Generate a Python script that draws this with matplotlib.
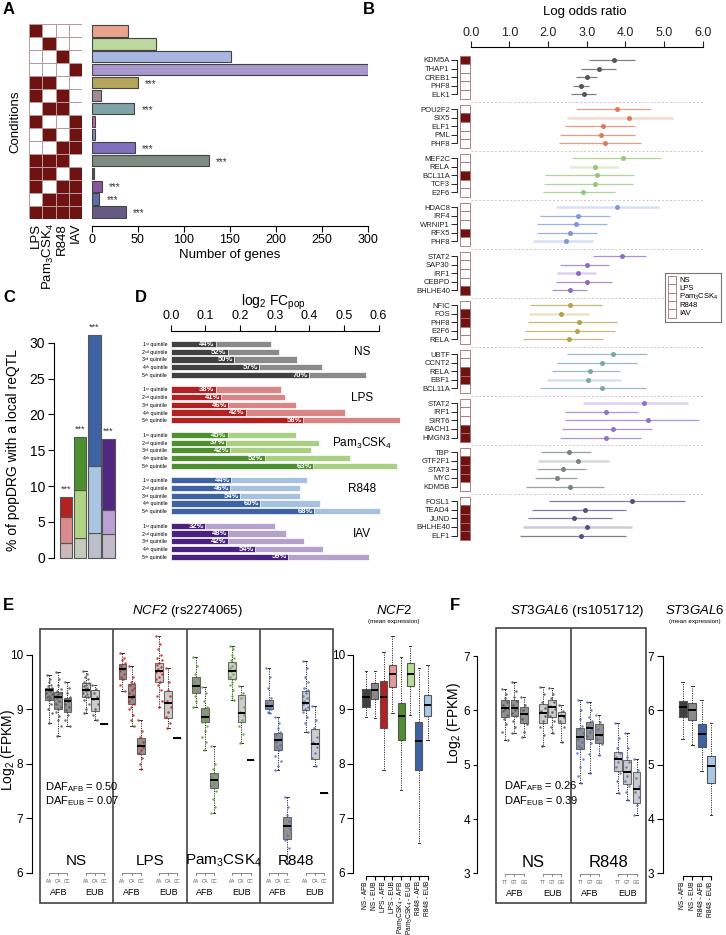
import matplotlib
matplotlib.use('Agg')
import matplotlib.pyplot as plt
from matplotlib.patches import Rectangle
from matplotlib.colors import ListedColormap
import numpy as np

plt.rcParams['font.family'] = ['Liberation Sans', 'DejaVu Sans']
plt.rcParams['mathtext.fontset'] = 'custom'
plt.rcParams['mathtext.rm'] = 'Liberation Sans'
plt.rcParams['mathtext.it'] = 'Liberation Sans:italic'
plt.rcParams['mathtext.bf'] = 'Liberation Sans:bold'
plt.rcParams['axes.linewidth'] = 0.8

# ---------------- data ----------------
# A: condition combinations (LPS, Pam3CSK4, R848, IAV) and gene counts
combo_cols = ['LPS', r'Pam$_3$CSK$_4$', 'R848', 'IAV']
combo_matrix = [[1, 0, 0, 0], [0, 1, 0, 0], [0, 0, 1, 0], [0, 0, 0, 1],
                [1, 1, 0, 0], [1, 0, 1, 0], [0, 1, 1, 0], [1, 0, 0, 1],
                [0, 1, 0, 1], [0, 0, 1, 1], [1, 1, 1, 0], [1, 1, 0, 1],
                [1, 0, 1, 1], [0, 1, 1, 1], [1, 1, 1, 1]]
n_genes = [39, 70, 151, 300, 50, 10, 46, 4, 4, 47, 127, 2, 11, 8, 37]
combo_signif = [0, 0, 0, 0, 1, 0, 1, 0, 0, 1, 1, 0, 1, 1, 1]
combo_colors = ['#e8a48c', '#bcd89e', '#a9b7e0', '#a897cc', '#b3a55b', '#a3899a',
                '#80a3aa', '#b86aa0', '#7f8db3', '#7e6fc0', '#7d8b80', '#555566',
                '#87589e', '#5e6ea8', '#665a85']

# B: TF enrichment (log odds ratio with CI)
tf_names = [['KDM5A', 'THAP1', 'CREB1', 'PHF8', 'ELK1'],
            ['POU2F2', 'SIX5', 'ELF1', 'PML', 'PHF8'],
            ['MEF2C', 'RELA', 'BCL11A', 'TCF3', 'E2F6'],
            ['HDAC8', 'IRF4', 'WRNIP1', 'RFX5', 'PHF8'],
            ['STAT2', 'SAP30', 'IRF1', 'CEBPD', 'BHLHE40'],
            ['NFIC', 'FOS', 'PHF8', 'E2F6', 'RELA'],
            ['UBTF', 'CCNT2', 'RELA', 'EBF1', 'BCL11A'],
            ['STAT2', 'IRF1', 'SIRT6', 'BACH1', 'HMGN3'],
            ['TBP', 'GTF2F1', 'STAT3', 'MYC', 'KDM5B'],
            ['FOSL1', 'TEAD4', 'JUND', 'BHLHE40', 'ELF1']]
tf_or = [[3.71, 3.33, 3.00, 2.85, 2.93],
         [3.78, 4.10, 3.41, 3.36, 3.47],
         [3.95, 3.22, 3.26, 3.22, 2.90],
         [3.79, 2.78, 2.73, 2.57, 2.46],
         [3.91, 3.00, 2.78, 3.00, 2.57],
         [2.57, 2.34, 2.80, 2.74, 2.53],
         [3.67, 3.40, 3.09, 3.04, 3.39],
         [4.49, 3.50, 4.59, 3.69, 3.49],
         [2.53, 2.77, 2.39, 2.23, 2.57],
         [4.17, 2.95, 2.68, 3.00, 2.84]]
tf_lo = [[3.07, 2.84, 2.72, 2.64, 2.60],
         [2.72, 2.50, 2.45, 2.31, 2.29],
         [2.62, 2.53, 1.93, 1.90, 1.88],
         [2.21, 1.78, 1.72, 1.71, 1.60],
         [3.16, 2.32, 2.24, 2.21, 2.10],
         [1.53, 1.51, 1.47, 1.41, 1.36],
         [2.50, 2.22, 2.11, 1.98, 1.78],
         [2.90, 2.45, 2.45, 2.36, 2.32],
         [1.83, 1.75, 1.71, 1.66, 1.43],
         [2.03, 1.59, 1.49, 1.36, 1.28]]
tf_hi = [[4.25, 3.76, 3.26, 3.07, 3.24],
         [4.66, 5.24, 4.25, 4.25, 4.41],
         [4.92, 3.84, 4.23, 4.21, 3.73],
         [4.88, 3.59, 3.53, 3.26, 3.16],
         [4.53, 3.57, 3.24, 3.66, 3.00],
         [3.40, 3.05, 3.79, 3.73, 3.43],
         [4.57, 4.31, 3.86, 3.88, 4.53],
         [5.63, 4.34, 5.91, 4.69, 4.41],
         [3.10, 3.57, 2.98, 2.74, 3.45],
         [5.54, 4.01, 3.66, 4.16, 4.02]]
tf_faded = [[0, 0, 0, 0, 0], [0, 1, 0, 0, 0], [0, 1, 0, 0, 0], [1, 0, 0, 0, 1],
            [0, 0, 1, 0, 0], [0, 1, 0, 0, 0], [0, 0, 0, 1, 0], [1, 0, 0, 0, 0],
            [0, 1, 0, 0, 0], [0, 0, 0, 1, 0]]
tf_marked = [[1, 0, 0, 0, 0], [0, 1, 0, 0, 0], [0, 0, 1, 0, 0], [0, 0, 0, 1, 0],
             [0, 0, 0, 0, 1], [0, 1, 1, 0, 0], [0, 0, 1, 1, 0], [0, 0, 0, 1, 1],
             [0, 1, 1, 1, 0], [0, 1, 1, 1, 1]]
tf_group_colors = ['#555555', '#e07b5a', '#94c77a', '#7b98d8', '#8e6cc4',
                   '#b3a34e', '#7aa6ad', '#8f72cc', '#74857a', '#5d4d86']
b_legend = ['NS', 'LPS', r'Pam$_3$CSK$_4$', 'R848', 'IAV']

# C: % of popDRG with a local reQTL (cumulative stack levels)
c_level1 = [2.1, 2.7, 3.4, 3.26]
c_level2 = [5.7, 9.5, 12.8, 6.65]
c_level3 = [8.5, 16.9, 31.1, 16.6]
c_col1 = ['#cbb9b9', '#c3cbb9', '#b9c0c9', '#c3bbca']
c_col2 = ['#d98a8a', '#b0d384', '#a9c5e1', '#b9a2d3']
c_col3 = ['#b22222', '#4e8f2e', '#3e63a5', '#50287f']

# D: log2 FCpop per quintile
d_conditions = ['NS', 'LPS', r'Pam$_3$CSK$_4$', 'R848', 'IAV']
d_quintiles = ['1ˢᵗ quintile', '2ⁿᵈ quintile', '3ʳᵈ quintile', '4ᵗʰ quintile', '5ᵗʰ quintile']
d_part = [[0.130, 0.164, 0.183, 0.255, 0.398],
          [0.130, 0.145, 0.166, 0.216, 0.382],
          [0.164, 0.159, 0.171, 0.271, 0.410],
          [0.174, 0.171, 0.201, 0.257, 0.413],
          [0.100, 0.166, 0.164, 0.243, 0.338]]
d_total = [[0.290, 0.313, 0.364, 0.437, 0.563],
           [0.319, 0.330, 0.362, 0.503, 0.661],
           [0.361, 0.427, 0.404, 0.518, 0.653],
           [0.393, 0.374, 0.372, 0.431, 0.605],
           [0.300, 0.332, 0.386, 0.439, 0.573]]
d_pct = [[44, 52, 50, 57, 70], [38, 41, 46, 42, 58], [45, 37, 42, 52, 63],
         [44, 46, 54, 60, 68], [32, 48, 42, 54, 59]]
d_dark = ['#404040', '#b22222', '#4e8f2e', '#3e63a5', '#4a2180']
d_light = ['#8a8a8a', '#d98585', '#a9cf80', '#a6c2e0', '#b6a0cc']

# E: NCF2 boxes (q1, median, q3, whisker low, whisker high) AFB AA/CA/CC, EUB AA/CA/CC
e_conditions = ['NS', 'LPS', r'Pam$_3$CSK$_4$', 'R848']
e_genotypes = ['AA', 'CA', 'CC']
e_boxes = [
    [(9.17, 9.36, 9.39, 8.74, 9.63), (9.00, 9.23, 9.31, 8.51, 9.69), (8.95, 9.16, 9.20, 8.70, 9.51),
     (9.22, 9.36, 9.48, 8.93, 9.71), (8.96, 9.19, 9.36, 8.80, 9.45), (8.73, 8.73, 8.73, 8.73, 8.73)],
    [(9.56, 9.74, 9.83, 9.34, 10.04), (9.09, 9.23, 9.47, 8.70, 9.80), (8.18, 8.33, 8.47, 7.90, 8.81),
     (9.51, 9.71, 9.85, 9.05, 10.34), (8.84, 9.12, 9.34, 8.65, 9.75), (8.47, 8.47, 8.47, 8.47, 8.47)],
    [(9.30, 9.43, 9.59, 9.05, 9.97), (8.76, 8.85, 9.02, 8.25, 9.41), (7.55, 7.70, 7.83, 7.09, 8.32),
     (9.55, 9.71, 9.87, 9.17, 10.17), (8.76, 8.93, 9.26, 8.39, 9.43), (8.06, 8.06, 8.06, 8.06, 8.06)],
    [(9.01, 9.06, 9.17, 8.93, 9.75), (8.25, 8.44, 8.56, 7.89, 8.85), (6.61, 6.86, 7.03, 6.17, 7.38),
     (8.99, 9.11, 9.33, 8.59, 9.88), (8.08, 8.36, 8.63, 7.95, 9.06), (7.46, 7.46, 7.46, 7.46, 7.46)]]
# individual samples (approximate readings) per box
e_points = [
    [[9.63, 9.55, 9.5, 9.45, 9.42, 9.4, 9.38, 9.37, 9.36, 9.35, 9.33, 9.3, 9.28, 9.25, 9.22, 9.2, 9.18, 9.1, 9.0, 8.93, 8.74],
     [9.69, 9.55, 9.45, 9.38, 9.33, 9.3, 9.28, 9.25, 9.23, 9.2, 9.15, 9.1, 9.05, 9.0, 8.95, 8.88, 8.8, 8.7, 8.51],
     [9.51, 9.4, 9.3, 9.22, 9.19, 9.17, 9.15, 9.1, 9.05, 8.98, 8.9, 8.8, 8.7],
     [9.71, 9.65, 9.6, 9.55, 9.5, 9.48, 9.45, 9.42, 9.4, 9.38, 9.37, 9.36, 9.35, 9.33, 9.3, 9.28, 9.25, 9.22, 9.18, 9.1, 9.0, 8.93],
     [9.45, 9.38, 9.3, 9.22, 9.19, 9.1, 9.0, 8.9, 8.8],
     [8.73]],
    [[10.04, 9.95, 9.9, 9.85, 9.8, 9.76, 9.74, 9.7, 9.65, 9.6, 9.55, 9.45, 9.34],
     [9.8, 9.6, 9.5, 9.48, 9.45, 9.4, 9.35, 9.3, 9.26, 9.23, 9.2, 9.15, 9.1, 9.05, 9.0, 8.9, 8.8, 8.7],
     [8.81, 8.6, 8.5, 8.4, 8.35, 8.3, 8.25, 8.2, 8.1, 8.0, 7.9],
     [10.34, 10.2, 10.1, 10.0, 9.95, 9.9, 9.86, 9.82, 9.78, 9.74, 9.71, 9.68, 9.65, 9.6, 9.55, 9.5, 9.45, 9.35, 9.25, 9.15, 9.05],
     [9.75, 9.5, 9.35, 9.25, 9.15, 9.05, 8.95, 8.85, 8.75, 8.65],
     [8.47]],
    [[9.97, 9.8, 9.65, 9.58, 9.5, 9.45, 9.42, 9.38, 9.32, 9.25, 9.15, 9.05],
     [9.41, 9.3, 9.15, 9.05, 9.0, 8.95, 8.9, 8.87, 8.85, 8.82, 8.8, 8.77, 8.7, 8.6, 8.5, 8.4, 8.25],
     [8.32, 8.0, 7.9, 7.82, 7.75, 7.7, 7.65, 7.6, 7.5, 7.35, 7.2, 7.09],
     [10.17, 10.1, 10.0, 9.95, 9.9, 9.85, 9.8, 9.75, 9.72, 9.7, 9.65, 9.6, 9.55, 9.5, 9.45, 9.35, 9.25, 9.17],
     [9.43, 9.3, 9.2, 9.05, 8.95, 8.9, 8.8, 8.7, 8.55, 8.39],
     [8.06]],
    [[9.75, 9.6, 9.4, 9.2, 9.12, 9.08, 9.05, 9.03, 9.0, 8.95, 8.93],
     [8.85, 8.75, 8.65, 8.58, 8.52, 8.47, 8.44, 8.4, 8.35, 8.3, 8.25, 8.15, 8.05, 7.95, 7.89],
     [7.38, 7.2, 7.05, 6.95, 6.88, 6.8, 6.7, 6.6, 6.45, 6.3, 6.17],
     [9.88, 9.75, 9.6, 9.5, 9.4, 9.35, 9.3, 9.25, 9.2, 9.15, 9.12, 9.1, 9.05, 9.0, 8.95, 8.85, 8.75, 8.59],
     [9.06, 8.8, 8.65, 8.5, 8.4, 8.3, 8.2, 8.1, 7.95],
     [7.46]]]
e_point_colors = ['#555555', '#c0281e', '#5ea82e', '#4a6fc0']
e_daf = ['0.50', '0.07']
e_mean_labels = ['NS - AFB', 'NS - EUB', 'LPS - AFB', 'LPS - EUB',
                 r'Pam$_3$CSK$_4$ - AFB', r'Pam$_3$CSK$_4$ - EUB', 'R848 - AFB', 'R848 - EUB']
e_mean_boxes = [(9.04, 9.23, 9.37, 8.85, 9.71), (9.19, 9.36, 9.48, 8.84, 9.71),
                (8.65, 9.23, 9.52, 7.89, 10.06), (9.41, 9.65, 9.82, 8.94, 10.35),
                (8.44, 8.87, 9.11, 7.52, 9.97), (9.43, 9.65, 9.85, 8.90, 10.17),
                (7.89, 8.42, 8.77, 6.54, 9.75), (8.87, 9.08, 9.26, 8.44, 9.82)]
e_mean_colors = ['#404040', '#8a8a8a', '#b22222', '#e59a9a', '#4e8f2e', '#b9de92', '#3e63a5', '#a9c8e8']

# F: ST3GAL6 boxes
f_conditions = ['NS', 'R848']
f_genotypes = ['TT', 'GT', 'GG']
f_boxes = [
    [(5.88, 6.04, 6.19, 5.45, 6.40), (5.89, 6.04, 6.19, 5.59, 6.53), (5.77, 5.93, 6.07, 5.51, 6.24),
     (5.76, 5.96, 6.11, 5.34, 6.43), (5.88, 6.06, 6.19, 5.58, 6.42), (5.77, 5.89, 5.97, 5.42, 6.10)],
    [(5.28, 5.51, 5.67, 4.66, 6.19), (5.48, 5.67, 5.79, 4.84, 6.16), (5.40, 5.55, 5.75, 5.18, 5.91),
     (4.89, 5.10, 5.24, 4.48, 5.77), (4.64, 4.87, 5.08, 4.35, 5.58), (4.30, 4.55, 4.87, 4.07, 5.10)]]
f_points = [
    [[6.4, 6.3, 6.22, 6.15, 6.1, 6.05, 6.02, 5.98, 5.92, 5.85, 5.75, 5.6, 5.45],
     [6.53, 6.35, 6.25, 6.18, 6.1, 6.05, 6.0, 5.95, 5.9, 5.8, 5.7, 5.59],
     [6.24, 6.1, 6.0, 5.93, 5.85, 5.75, 5.6, 5.51],
     [6.43, 6.3, 6.15, 6.05, 5.98, 5.9, 5.8, 5.7, 5.55, 5.34],
     [6.42, 6.3, 6.22, 6.15, 6.08, 6.03, 5.97, 5.9, 5.8, 5.7, 5.58],
     [6.1, 5.98, 5.92, 5.88, 5.8, 5.7, 5.42]],
    [[6.19, 6.0, 5.85, 5.72, 5.65, 5.58, 5.52, 5.48, 5.42, 5.35, 5.3, 5.22, 5.1, 4.95, 4.8, 4.66],
     [6.16, 6.0, 5.88, 5.8, 5.72, 5.66, 5.6, 5.52, 5.4, 5.2, 4.84],
     [5.91, 5.78, 5.65, 5.55, 5.48, 5.38, 5.18],
     [5.77, 5.5, 5.3, 5.22, 5.15, 5.1, 5.05, 4.95, 4.85, 4.7, 4.48],
     [5.58, 5.3, 5.15, 5.05, 4.95, 4.88, 4.8, 4.7, 4.6, 4.5, 4.35],
     [5.1, 4.9, 4.75, 4.6, 4.5, 4.4, 4.25, 4.07]]]
f_point_colors = ['#555555', '#4a6fc0']
f_daf = ['0.26', '0.39']
f_mean_labels = ['NS - AFB', 'NS - EUB', 'R848 - AFB', 'R848 - EUB']
f_mean_boxes = [(5.88, 6.06, 6.18, 5.48, 6.53), (5.82, 6.01, 6.14, 5.36, 6.45),
                (5.33, 5.56, 5.74, 4.88, 6.19), (4.67, 4.98, 5.15, 4.07, 5.76)]
f_mean_colors = ['#404040', '#8a8a8a', '#3e63a5', '#a9c8e8']

# ---------------- figure ----------------
W, H = 726, 935
PT = 0.72  # points per pixel at dpi 100
fig = plt.figure(figsize=(W / 100, H / 100), dpi=100)
JITTER = [-0.28, 0.12, -0.06, 0.24, -0.18, 0.3, 0.02, -0.24, 0.18, -0.12, 0.08, -0.3, 0.27, -0.02]


def axes_px(x0, y0, x1, y1):
    return fig.add_axes([x0 / W, 1 - y1 / H, (x1 - x0) / W, (y1 - y0) / H])


def letter(x, y, s):
    fig.text(x / W, 1 - y / H, s, fontsize=12, fontweight='bold', va='center', ha='left')


def hide(ax, which):
    for s in which:
        ax.spines[s].set_visible(False)


def boxes(ax, positions, stats, faces, width, alpha=1.0):
    st = [dict(q1=s[0], med=s[1], q3=s[2], whislo=s[3], whishi=s[4], fliers=[]) for s in stats]
    out = ax.bxp(st, positions=positions, widths=width, patch_artist=True, showfliers=False,
                 capwidths=width * 0.35, manage_ticks=False,
                 boxprops=dict(edgecolor='#555555', linewidth=0.8),
                 whiskerprops=dict(linestyle=(0, (1.2, 1.2)), linewidth=0.7, color='#333333'),
                 capprops=dict(linewidth=0.7, color='#333333'),
                 medianprops=dict(color='black', linewidth=1.4, zorder=4))
    for b, c in zip(out['boxes'], faces):
        b.set_facecolor(c)
        b.set_alpha(alpha)
    return out


def samples(ax, positions, values, color):
    for x, vals in zip(positions, values):
        if len(vals) < 2:
            continue
        xs = [x + JITTER[i % len(JITTER)] for i in range(len(vals))]
        ax.scatter(xs, vals, s=3.2, color=color, alpha=0.85, lw=0, zorder=3)


# ---- A ----
letter(3, 10, 'A')
axh = axes_px(29, 24.4, 82, 218.6)
axh.pcolormesh(np.array(combo_matrix), cmap=ListedColormap(['white', '#6e1212']),
               edgecolors='#b89a9a', linewidth=0.7)
axh.set_xlim(0, 4)
axh.set_ylim(15, 0)
axh.set_xticks(np.arange(4) + 0.5)
axh.set_xticklabels(combo_cols, rotation=90, fontsize=9.5, va='top')
axh.tick_params(axis='x', length=0, pad=3)
axh.set_yticks([])
hide(axh, ['top', 'right', 'bottom', 'left'])
fig.text(15 / W, 1 - 122 / H, 'Conditions', rotation=90, fontsize=9.5, ha='center', va='center')

axa = axes_px(91.7, 24.4, 367.7, 218.6)
ya = np.arange(len(n_genes))
axa.barh(ya, n_genes, height=0.88, color=combo_colors, edgecolor='#444444', linewidth=0.8)
for y, v, s in zip(ya, n_genes, combo_signif):
    if s:
        axa.text(v + 8, y + 0.1, '***', fontsize=7, va='center', ha='left', color='#333333')
axa.set_xlim(0, 300)
axa.set_ylim(14.5, -0.5)
axa.set_yticks([])
hide(axa, ['top', 'right', 'left'])
axa.spines['bottom'].set_position(('outward', 7.4 * PT))
axa.spines['bottom'].set_bounds(0, 300)
axa.set_xticks(np.arange(0, 301, 50))
axa.tick_params(axis='x', labelsize=9, length=4, pad=2)
axa.set_xlabel('Number of genes', fontsize=9.5, labelpad=2)

# ---- B ----
letter(363, 10, 'B')
fig.text(585 / W, 1 - 12 / H, 'Log odds ratio', fontsize=9.5, ha='center', va='center')
axb = axes_px(456.7, 47, 705, 545)
xmin_b = (456.7 - 470.7) / 38.67
axb.set_xlim(xmin_b, 6.06)
axb.set_ylim(56.4, -1.51)
hide(axb, ['right', 'bottom', 'left'])
axb.xaxis.tick_top()
axb.spines['top'].set_bounds(0, 6)
axb.set_xticks(np.arange(0, 7))
axb.set_xticklabels(['%.1f' % v for v in range(7)])
axb.tick_params(axis='x', labelsize=9, length=4, pad=2, colors='#222222')
ytick_pos, ytick_lab = [], []
gstep = 5.7
for g in range(len(tf_names)):
    y0 = g * gstep
    col = tf_group_colors[g]
    for r in range(5):
        y = y0 + r
        ytick_pos.append(y)
        ytick_lab.append(tf_names[g][r])
        if tf_faded[g][r]:
            axb.hlines(y, tf_lo[g][r], tf_hi[g][r], color=col, lw=1.8, alpha=0.3)
        else:
            axb.hlines(y, tf_lo[g][r], tf_hi[g][r], color=col, lw=0.9, alpha=0.75)
        axb.plot(tf_or[g][r], y, 'o', ms=3.6, color=col, mec='none')
        fc = '#6e1212' if tf_marked[g][r] else 'white'
        axb.add_patch(Rectangle((-0.277, y - 0.5), 0.247, 1.0, fc=fc, ec='#a07070', lw=0.6))
    axb.plot([xmin_b, xmin_b], [y0, y0 + 4], color='#333333', lw=0.8, clip_on=False)
    if g > 0:
        axb.plot([0, 6.06], [y0 - 0.85, y0 - 0.85], color='#c8c8c8', lw=0.7, ls=(0, (2, 2)))
axb.set_yticks(ytick_pos)
axb.set_yticklabels(ytick_lab, fontsize=5.5)
axb.tick_params(axis='y', length=4, width=0.7, pad=1, colors='#222222')

axl = axes_px(665, 273, 721, 322)
axl.set_xlim(0, 56)
axl.set_ylim(49, 0)
axl.set_xticks([])
axl.set_yticks([])
for s in axl.spines.values():
    s.set_color('#777777')
for i, lab in enumerate(b_legend):
    yc = 7 + i * 8.4
    axl.add_patch(Rectangle((3, yc - 4.2), 8, 8.4, fc='white', ec='#a07070', lw=0.6))
    axl.text(14, yc, lab, fontsize=5.5, va='center', ha='left')

# ---- C ----
letter(3, 297, 'C')
axc = axes_px(56, 330, 117, 560)
xc = np.arange(4)
l1 = np.array(c_level1)
l2 = np.array(c_level2)
l3 = np.array(c_level3)
axc.bar(xc, l1, width=0.87, color=c_col1, edgecolor='#555555', lw=0.8)
axc.bar(xc, l2 - l1, bottom=l1, width=0.87, color=c_col2, edgecolor='#555555', lw=0.8)
axc.bar(xc, l3 - l2, bottom=l2, width=0.87, color=c_col3, edgecolor='#555555', lw=0.8)
for x, v in zip(xc, l3):
    axc.text(x, v + 0.4, '***', fontsize=6.5, ha='center', va='bottom', color='#333333')
axc.set_xlim(-0.72, 3.6)
axc.set_ylim(-0.32, 31.77)
hide(axc, ['top', 'right', 'bottom'])
axc.set_xticks([])
axc.spines['left'].set_position(('outward', 2.5 * PT))
axc.spines['left'].set_bounds(0, 30)
axc.set_yticks(np.arange(0, 31, 5))
axc.tick_params(axis='y', labelsize=10, length=4, pad=2)
fig.text(13 / W, 1 - 450 / H, '% of popDRG with a local reQTL', rotation=90, fontsize=10,
         ha='center', va='center')

# ---- D ----
letter(135, 297, 'D')
fig.text(273 / W, 1 - 302 / H, r'log$_2$ FC$_{\mathrm{pop}}$', fontsize=10, ha='center', va='center')
axd = axes_px(170.7, 330.7, 405, 562)
axd.set_xlim(0, 0.676)
axd.set_ylim(28.3, -1.73)
hide(axd, ['right', 'bottom', 'left'])
axd.xaxis.tick_top()
axd.spines['top'].set_bounds(0, 0.6)
axd.set_xticks(np.arange(0, 0.61, 0.1))
axd.set_xticklabels(['%.1f' % v for v in np.arange(0, 0.61, 0.1)])
axd.tick_params(axis='x', labelsize=9, length=4, pad=2)
dpos, dlab = [], []
for g in range(5):
    for q in range(5):
        y = g * 5.9 + q
        dpos.append(y)
        dlab.append(d_quintiles[q])
        axd.barh(y, d_total[g][q], height=0.8, color=d_light[g], edgecolor='white', lw=0.5)
        axd.barh(y, d_part[g][q], height=0.8, color=d_dark[g], edgecolor='white', lw=0.5)
        axd.text(d_part[g][q] - 0.003, y + 0.05, '%d%%' % d_pct[g][q], color='white',
                 fontsize=5.5, fontweight='bold', ha='right', va='center')
    axd.text(0.552, g * 5.9 + 1.1, d_conditions[g], fontsize=8.5, ha='center', va='center')
axd.set_yticks(dpos)
axd.set_yticklabels(dlab, fontsize=3.8)
axd.tick_params(axis='y', length=0, pad=2.5)

# ---- E ----
letter(3, 605, 'E')
fig.text(187 / W, 1 - 611 / H, r'$\it{NCF2}$ (rs2274065)', fontsize=9.5, ha='center', va='center')
axe = axes_px(40, 629.3, 333, 903.3)
axe.set_xlim(0, 32)
axe.set_ylim(5.436, 10.47)
hide(axe, ['top', 'right', 'bottom'])
axe.spines['left'].set_position(('outward', 8.3 * PT))
axe.spines['left'].set_bounds(6, 10)
axe.set_yticks([6, 7, 8, 9, 10])
axe.tick_params(axis='y', labelsize=8.5, length=4, pad=2)
axe.set_xticks([])
axe.add_patch(Rectangle((0, 0), 1, 1, transform=axe.transAxes, fill=False, ec='#444444',
                        lw=1.2, clip_on=False))
rel = [1, 2, 3, 5, 6, 7]
for p in range(4):
    if p > 0:
        axe.axvline(p * 8, color='#444444', lw=1.2)
    pos = [p * 8 + r for r in rel]
    boxes(axe, pos, e_boxes[p], ['#7f7f7f'] * 3 + ['#c4c4c4'] * 3, 0.84, alpha=0.85)
    samples(axe, pos, e_points[p], e_point_colors[p])
    axe.text(p * 8 + 4, 6.22, e_conditions[p], fontsize=11, ha='center', va='center')
    for k, pop in enumerate(['AFB', 'EUB']):
        a, b = pos[3 * k], pos[3 * k + 2]
        axe.plot([a, b], [5.99, 5.99], color='#777777', lw=0.6)
        for x, gt in zip(pos[3 * k:3 * k + 3], e_genotypes):
            axe.plot([x, x], [5.99, 5.95], color='#777777', lw=0.6)
            axe.text(x, 5.84, gt, fontsize=3.3, ha='center', va='center', color='#555555')
        axe.text((a + b) / 2, 5.63, pop, fontsize=6.5, ha='center', va='center')
axe.text(0.6, 7.58, r'DAF$_{\mathrm{AFB}}$ = ' + e_daf[0], fontsize=8, ha='left', va='center')
axe.text(0.6, 7.32, r'DAF$_{\mathrm{EUB}}$ = ' + e_daf[1], fontsize=8, ha='left', va='center')
fig.text(8 / W, 1 - 750 / H, r'Log$_2$ (FPKM)', rotation=90, fontsize=10, ha='center', va='center')

fig.text(394 / W, 1 - 611 / H, r'$\it{NCF2}$', fontsize=9.5, ha='center', va='center')
fig.text(394 / W, 1 - 621 / H, '(mean expression)', fontsize=4.5, ha='center', va='center')
axem = axes_px(357, 629.3, 433, 875.5)
axem.set_xlim(-1.02, 7.6)
axem.set_ylim(5.947, 10.47)
hide(axem, ['top', 'right'])
boxes(axem, np.arange(8), e_mean_boxes, e_mean_colors, 0.8)
axem.spines['left'].set_position(('outward', 3.7 * PT))
axem.spines['left'].set_bounds(6, 10)
axem.spines['bottom'].set_bounds(0, 7)
axem.set_yticks([6, 7, 8, 9, 10])
axem.tick_params(axis='y', labelsize=8.5, length=4, pad=2)
axem.set_xticks(np.arange(8))
axem.set_xticklabels(e_mean_labels, rotation=90, fontsize=4.8)
axem.tick_params(axis='x', length=3, pad=1)

# ---- F ----
letter(450, 605, 'F')
fig.text(577 / W, 1 - 611 / H, r'$\it{ST3GAL6}$ (rs1051712)', fontsize=9.5, ha='center', va='center')
axf = axes_px(495.7, 628.3, 646, 903.3)
axf.set_xlim(0, 16)
axf.set_ylim(2.45, 7.51)
hide(axf, ['top', 'right', 'bottom'])
axf.spines['left'].set_position(('outward', 19 * PT))
axf.spines['left'].set_bounds(3, 7)
axf.set_yticks([3, 4, 5, 6, 7])
axf.tick_params(axis='y', labelsize=8.5, length=3, pad=1.5)
axf.set_xticks([])
axf.add_patch(Rectangle((0, 0), 1, 1, transform=axf.transAxes, fill=False, ec='#444444',
                        lw=1.2, clip_on=False))
for p in range(2):
    if p > 0:
        axf.axvline(p * 8, color='#444444', lw=1.2)
    pos = [p * 8 + r for r in rel]
    boxes(axf, pos, f_boxes[p], ['#7f7f7f'] * 3 + ['#c4c4c4'] * 3, 0.82, alpha=0.85)
    samples(axf, pos, f_points[p], f_point_colors[p])
    axf.text(p * 8 + 4, 3.2, f_conditions[p], fontsize=12, ha='center', va='center')
    for k, pop in enumerate(['AFB', 'EUB']):
        a, b = pos[3 * k], pos[3 * k + 2]
        axf.plot([a, b], [2.99, 2.99], color='#777777', lw=0.6)
        for x, gt in zip(pos[3 * k:3 * k + 3], f_genotypes):
            axf.plot([x, x], [2.99, 2.95], color='#777777', lw=0.6)
            axf.text(x, 2.84, gt, fontsize=3.3, ha='center', va='center', color='#555555')
        axf.text((a + b) / 2, 2.63, pop, fontsize=6.5, ha='center', va='center')
axf.text(0.88, 4.6, r'DAF$_{\mathrm{AFB}}$ = ' + f_daf[0], fontsize=8, ha='left', va='center')
axf.text(0.88, 4.33, r'DAF$_{\mathrm{EUB}}$ = ' + f_daf[1], fontsize=8, ha='left', va='center')
fig.text(454 / W, 1 - 723 / H, r'Log$_2$ (FPKM)', rotation=90, fontsize=10, ha='center', va='center')

fig.text(695 / W, 1 - 611 / H, r'$\it{ST3GAL6}$', fontsize=9.5, ha='center', va='center')
fig.text(695 / W, 1 - 621 / H, '(mean expression)', fontsize=4.5, ha='center', va='center')
axfm = axes_px(667, 628.3, 722, 876)
axfm.set_xlim(-1.67, 4.18)
axfm.set_ylim(2.95, 7.51)
hide(axfm, ['top', 'right'])
boxes(axfm, np.arange(4), f_mean_boxes, f_mean_colors, 0.85)
axfm.spines['left'].set_position(('outward', 4.3 * PT))
axfm.spines['left'].set_bounds(3, 7)
axfm.spines['bottom'].set_bounds(0, 3)
axfm.set_yticks([3, 4, 5, 6, 7])
axfm.tick_params(axis='y', labelsize=8.5, length=4, pad=2)
axfm.set_xticks(np.arange(4))
axfm.set_xticklabels(f_mean_labels, rotation=90, fontsize=4.8)
axfm.tick_params(axis='x', length=3, pad=1)

fig.savefig('out.png', dpi=100)
plt.close(fig)
print('Saved: out.png')
